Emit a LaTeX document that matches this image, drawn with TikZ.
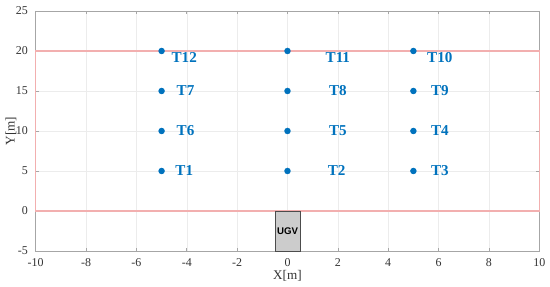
\documentclass[tikz,border=0pt]{standalone}
\usepackage{fontspec}
\setmainfont{Liberation Serif}
\newfontfamily\ugvfont{Liberation Sans}
\usetikzlibrary{positioning}
\definecolor{mblue}{RGB}{0,114,189}
\definecolor{zonered}{RGB}{242,175,175}

\begin{document}
\begin{tikzpicture}[
			x=0.5036cm, y=0.16cm,
			grid/.style={draw=gray!15, line width=0.3pt},
			axisline/.style={draw=gray!70, line width=0.4pt},
			ticklab/.style={font=\fontsize{6.8}{7}\selectfont, text=black!80},
			target/.style={circle, fill=mblue, inner sep=0pt, minimum size=0.13cm},
			tlabel/.style={font=\fontsize{8.6}{9}\selectfont\bfseries, text=mblue},
			ugvbox/.style={draw=gray!60!black, fill=gray!40, line width=0.3pt,
				minimum width=0.5036cm, minimum height=0.8cm, inner sep=0pt,
				font=\ugvfont\fontsize{5.5}{6}\selectfont\bfseries}
			]
			
			\useasboundingbox (-11.418,-9.41) rectangle (10.425,26.375);
			
			% grid
			\foreach \gx in {-8,-6,...,8}
				\draw[grid] (\gx,-5) -- (\gx,25);
			\foreach \gy in {0,5,...,20}
				\draw[grid] (-10,\gy) -- (10,\gy);
			
			% axes box and ticks
			\draw[axisline] (-10,-5) rectangle (10,25);
			\foreach \gx in {-10,-8,...,10} {
				\draw[axisline] (\gx,-5) -- ++(0,0.375);
				\draw[axisline] (\gx,25) -- ++(0,-0.375);
				\node[ticklab, below=1pt] at (\gx,-5) {\gx};
			}
			\foreach \gy in {-5,0,...,25} {
				\draw[axisline] (-10,\gy) -- ++(0.12,0);
				\draw[axisline] (10,\gy) -- ++(-0.12,0);
				\node[ticklab, left=1pt] at (-10,\gy) {\gy};
			}
			\node[font=\fontsize{7.5}{8}\selectfont, text=black!80] (xlab) at (0,-8.1) {X[m]};
			\node[font=\fontsize{7.5}{8}\selectfont, text=black!80, rotate=90] (ylab) at (-10.98,10) {Y[m]};
			
			% zone
			\draw[draw=zonered, line width=0.8pt] (-10,0) rectangle (10,20);
			
			% UGV
			\node[ugvbox] (ugv) at (0,-2.5) {UGV};
			
			% targets
			\node[target] (d1) at (-5,5) {};
			\node[target] (d2) at (0,5) {};
			\node[target] (d3) at (5,5) {};
			\node[target] (d4) at (5,10) {};
			\node[target] (d5) at (0,10) {};
			\node[target] (d6) at (-5,10) {};
			\node[target] (d7) at (-5,15) {};
			\node[target] (d8) at (0,15) {};
			\node[target] (d9) at (5,15) {};
			\node[target] (d10) at (5,20) {};
			\node[target] (d11) at (0,20) {};
			\node[target] (d12) at (-5,20) {};
			
			\node[tlabel] (t1) at (-4.1,5) {T1};
			\node[tlabel] (t2) at (1.95,5) {T2};
			\node[tlabel] (t3) at (6.05,5) {T3};
			\node[tlabel] (t4) at (6.05,10) {T4};
			\node[tlabel] (t5) at (2.0,10) {T5};
			\node[tlabel] (t6) at (-4.05,10) {T6};
			\node[tlabel] (t7) at (-4.05,15) {T7};
			\node[tlabel] (t8) at (2.0,15) {T8};
			\node[tlabel] (t9) at (6.05,15) {T9};
			\node[tlabel] (t10) at (6.05,19.2) {T10};
			\node[tlabel] (t11) at (2.0,19.2) {T11};
			\node[tlabel] (t12) at (-4.1,19.2) {T12};
			
		\end{tikzpicture}
\end{document}
